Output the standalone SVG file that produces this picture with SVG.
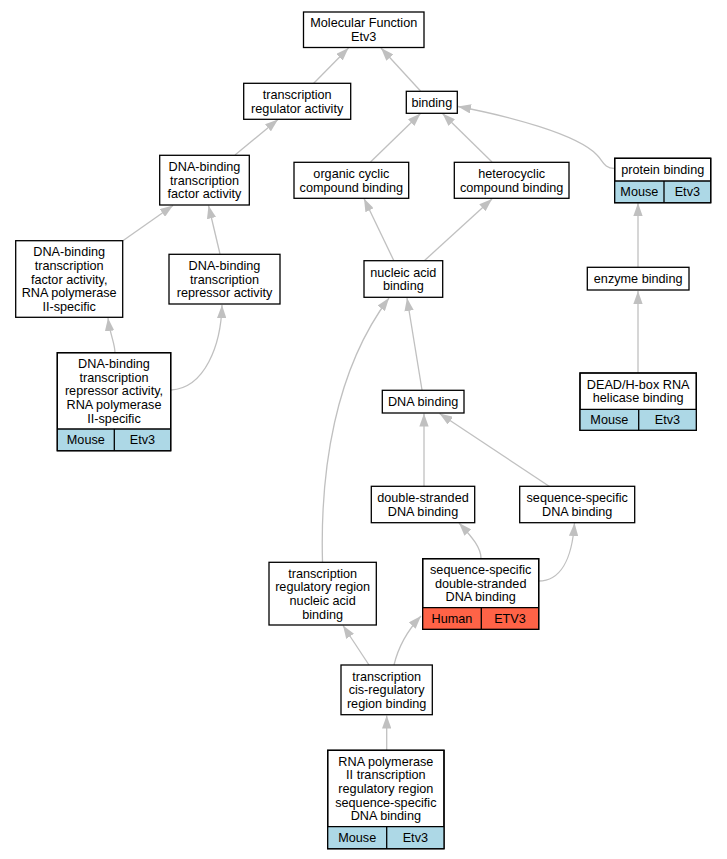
<svg xmlns="http://www.w3.org/2000/svg" width="727" height="859" viewBox="0 0 727 859">
<style>
.bg{fill:#fff}
.box{fill:#fff;stroke:#000;stroke-width:1.3}
.ol{fill:none;stroke:#000;stroke-width:1.3}
.mouse{fill:#add8e6}
.human{fill:#ff6347}
.div{stroke:#000;stroke-width:1.3}
text{font-family:"Liberation Sans",Arial,sans-serif;font-size:12.67px;fill:#000;text-anchor:middle}
.e{fill:none;stroke:#c0c0c0;stroke-width:1.3;marker-end:url(#ah)}
</style>
<defs>
<marker id="ah" viewBox="0 0 13 9.3" refX="13" refY="4.65" markerUnits="userSpaceOnUse" markerWidth="13" markerHeight="9.3" orient="auto">
<path d="M0,0 L13,4.65 L0,9.3 z" fill="#c0c0c0"/>
</marker>
</defs>
<rect class="bg" x="0" y="0" width="727" height="859"/>
<g id="connectors">
<path class="e" d="M313.5,83.5 L348.5,48"/>
<path class="e" d="M420.5,91 L381,48"/>
<path class="e" d="M235,155 L278,119.5"/>
<path class="e" d="M370.5,162 L420.5,113.5"/>
<path class="e" d="M492,162 L442.5,113.5"/>
<path class="e" d="M614.5,168.5 C604,168.5 603,161 597,155 C577,134 508,116 458,106.5"/>
<path class="e" d="M122.5,241 L173,205.5"/>
<path class="e" d="M220,254 L208.5,205.5"/>
<path class="e" d="M394,261 L364,198.5"/>
<path class="e" d="M424,261 L492,199"/>
<path class="e" d="M638,267 L638,203"/>
<path class="e" d="M115,353 C115,343 110,335 108,318"/>
<path class="e" d="M171,390 C205,388 221,345 222,305"/>
<path class="e" d="M422,390 L407,298"/>
<path class="e" d="M638,373 L638,291"/>
<path class="e" d="M322.5,562 C320,470 335,370 389,298"/>
<path class="e" d="M424,486 L424,413.5"/>
<path class="e" d="M549.5,486.5 L439.5,413.5"/>
<path class="e" d="M481,558.5 C481,548 473,538 459,523"/>
<path class="e" d="M538.5,581 C560,581 572,560 574.5,523"/>
<path class="e" d="M369,665 L343,625.5"/>
<path class="e" d="M394,665 C398,648 408,630 421,616"/>
<path class="e" d="M386.7,750 L386.7,715.5"/>
</g>
<g id="n1">
<rect class="box" x="303.5" y="12" width="120.5" height="35.5"/>
<text x="363.75" y="27.45">Molecular Function</text>
<text x="363.75" y="41.05">Etv3</text>
</g>
<g id="n2">
<rect class="box" x="243.7" y="83.3" width="107" height="36"/>
<text x="297.2" y="99">transcription</text>
<text x="297.2" y="112.6">regulator activity</text>
</g>
<g id="n3">
<rect class="box" x="406.3" y="91.3" width="51" height="22"/>
<text x="431.8" y="106.8">binding</text>
</g>
<g id="n4">
<rect class="box" x="159.7" y="155.3" width="89.6" height="49.7"/>
<text x="204.5" y="171.05">DNA-binding</text>
<text x="204.5" y="184.65">transcription</text>
<text x="204.5" y="198.25">factor activity</text>
</g>
<g id="n5">
<rect class="box" x="294" y="162.3" width="114.7" height="36"/>
<text x="351.35" y="178">organic cyclic</text>
<text x="351.35" y="191.6">compound binding</text>
</g>
<g id="n6">
<rect class="box" x="454.3" y="162.3" width="114.7" height="36"/>
<text x="511.65" y="178">heterocyclic</text>
<text x="511.65" y="191.6">compound binding</text>
</g>
<g id="n7">
<rect class="box" x="614.7" y="158.3" width="96" height="44.4"/>
<rect class="mouse" x="614.7" y="181" width="96" height="21.7"/>
<rect class="ol" x="614.7" y="158.3" width="96" height="44.4"/>
<line class="div" x1="614.7" y1="181" x2="710.7" y2="181"/>
<line class="div" x1="664" y1="181" x2="664" y2="202.7"/>
<text x="662.7" y="174.15">protein binding</text>
<text x="639.35" y="196.35">Mouse</text>
<text x="687.35" y="196.35">Etv3</text>
</g>
<g id="n8">
<rect class="box" x="15.7" y="240.7" width="107" height="76.6"/>
<text x="69.2" y="256.3">DNA-binding</text>
<text x="69.2" y="269.9">transcription</text>
<text x="69.2" y="283.5">factor activity,</text>
<text x="69.2" y="297.1">RNA polymerase</text>
<text x="69.2" y="310.7">II-specific</text>
</g>
<g id="n9">
<rect class="box" x="169" y="254.3" width="111" height="49.7"/>
<text x="224.5" y="270.05">DNA-binding</text>
<text x="224.5" y="283.65">transcription</text>
<text x="224.5" y="297.25">repressor activity</text>
</g>
<g id="n10">
<rect class="box" x="364" y="260.7" width="78.7" height="36.6"/>
<text x="403.35" y="276.7">nucleic acid</text>
<text x="403.35" y="290.3">binding</text>
</g>
<g id="n11">
<rect class="box" x="587.3" y="267.3" width="101.7" height="22.7"/>
<text x="638.15" y="283.15">enzyme binding</text>
</g>
<g id="n12">
<rect class="box" x="57.3" y="352.7" width="113.4" height="98"/>
<rect class="mouse" x="57.3" y="429" width="113.4" height="21.7"/>
<rect class="ol" x="57.3" y="352.7" width="113.4" height="98"/>
<line class="div" x1="57.3" y1="429" x2="170.7" y2="429"/>
<line class="div" x1="114.3" y1="429" x2="114.3" y2="450.7"/>
<text x="114" y="368.15">DNA-binding</text>
<text x="114" y="381.75">transcription</text>
<text x="114" y="395.35">repressor activity,</text>
<text x="114" y="408.95">RNA polymerase</text>
<text x="114" y="422.55">II-specific</text>
<text x="85.8" y="444.35">Mouse</text>
<text x="142.5" y="444.35">Etv3</text>
</g>
<g id="n13">
<rect class="box" x="382.3" y="390.3" width="81.7" height="22.7"/>
<text x="423.15" y="406.15">DNA binding</text>
</g>
<g id="n14">
<rect class="box" x="580" y="373" width="116.3" height="57.3"/>
<rect class="mouse" x="580" y="409.3" width="116.3" height="21"/>
<rect class="ol" x="580" y="373" width="116.3" height="57.3"/>
<line class="div" x1="580" y1="409.3" x2="696.3" y2="409.3"/>
<line class="div" x1="638.7" y1="409.3" x2="638.7" y2="430.3"/>
<text x="638.15" y="388.85">DEAD/H-box RNA</text>
<text x="638.15" y="402.45">helicase binding</text>
<text x="609.35" y="424.3">Mouse</text>
<text x="667.5" y="424.3">Etv3</text>
</g>
<g id="n15">
<rect class="box" x="371.3" y="486.3" width="103.4" height="36.4"/>
<text x="423" y="502.2">double-stranded</text>
<text x="423" y="515.8">DNA binding</text>
</g>
<g id="n16">
<rect class="box" x="519.7" y="486.3" width="115" height="36.4"/>
<text x="577.2" y="502.2">sequence-specific</text>
<text x="577.2" y="515.8">DNA binding</text>
</g>
<g id="n17">
<rect class="box" x="269" y="562.3" width="107.3" height="62.7"/>
<text x="322.65" y="577.75">transcription</text>
<text x="322.65" y="591.35">regulatory region</text>
<text x="322.65" y="604.95">nucleic acid</text>
<text x="322.65" y="618.55">binding</text>
</g>
<g id="n18">
<rect class="box" x="422.7" y="558.7" width="116" height="70.6"/>
<rect class="human" x="422.7" y="607.7" width="116" height="21.6"/>
<rect class="ol" x="422.7" y="558.7" width="116" height="70.6"/>
<line class="div" x1="422.7" y1="607.7" x2="538.7" y2="607.7"/>
<line class="div" x1="481.3" y1="607.7" x2="481.3" y2="629.3"/>
<text x="480.7" y="574.1">sequence-specific</text>
<text x="480.7" y="587.7">double-stranded</text>
<text x="480.7" y="601.3">DNA binding</text>
<text x="452" y="623">Human</text>
<text x="510" y="623">ETV3</text>
</g>
<g id="n19">
<rect class="box" x="341" y="665" width="91.3" height="49.7"/>
<text x="386.65" y="680.75">transcription</text>
<text x="386.65" y="694.35">cis-regulatory</text>
<text x="386.65" y="707.95">region binding</text>
</g>
<g id="n20">
<rect class="box" x="327.7" y="750.3" width="116.3" height="98.4"/>
<rect class="mouse" x="327.7" y="826.7" width="116.3" height="22"/>
<rect class="ol" x="327.7" y="750.3" width="116.3" height="98.4"/>
<line class="div" x1="327.7" y1="826.7" x2="444" y2="826.7"/>
<line class="div" x1="386.7" y1="826.7" x2="386.7" y2="848.7"/>
<text x="385.85" y="765.8">RNA polymerase</text>
<text x="385.85" y="779.4">II transcription</text>
<text x="385.85" y="793">regulatory region</text>
<text x="385.85" y="806.6">sequence-specific</text>
<text x="385.85" y="820.2">DNA binding</text>
<text x="357.2" y="842.2">Mouse</text>
<text x="415.35" y="842.2">Etv3</text>
</g>
</svg>
